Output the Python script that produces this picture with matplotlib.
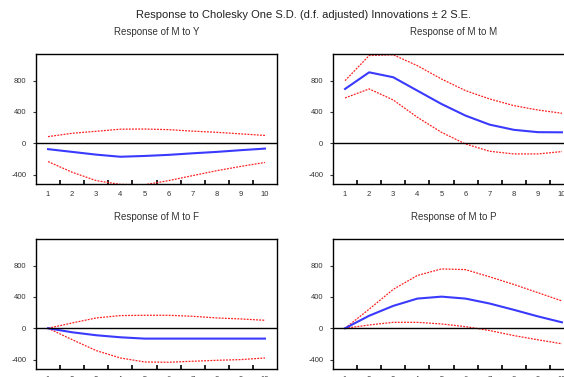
import matplotlib
matplotlib.use("Agg")
import matplotlib.pyplot as plt
from matplotlib.ticker import FixedLocator

plt.rcParams['font.family'] = ['Liberation Sans', 'DejaVu Sans']

periods = [1, 2, 3, 4, 5, 6, 7, 8, 9, 10]

titles = ["Response of M to Y", "Response of M to M",
          "Response of M to F", "Response of M to P"]

resp_Y = [-75, -110, -145, -172, -162, -148, -128, -110, -88, -68]
up_Y = [85, 128, 153, 180, 182, 174, 155, 140, 120, 100]
lo_Y = [-234, -370, -477, -525, -530, -477, -413, -350, -295, -245]

resp_M = [694, 906, 843, 672, 502, 353, 238, 172, 142, 140]
up_M = [800, 1120, 1130, 991, 821, 672, 566, 481, 425, 383]
lo_M = [579, 694, 553, 332, 140, -9, -102, -136, -136, -106]

resp_F = [0, -51, -89, -115, -132, -132, -132, -132, -132, -132]
up_F = [0, 68, 132, 162, 166, 166, 153, 132, 119, 102]
lo_F = [0, -145, -285, -379, -430, -434, -421, -409, -400, -379]

resp_P = [0, 160, 286, 379, 404, 379, 316, 236, 152, 76]
up_P = [0, 244, 497, 674, 758, 749, 657, 560, 455, 349]
lo_P = [0, 42, 76, 76, 55, 21, -29, -93, -147, -198]

series = [(resp_Y, up_Y, lo_Y), (resp_M, up_M, lo_M),
          (resp_F, up_F, lo_F), (resp_P, up_P, lo_P)]

yticks = [-400, 0, 400, 800]
ytick_labels = ["-400", "0", "400", "800"]

W, H = 564, 377
fig = plt.figure(figsize=(W / 100, H / 100), dpi=100)

# axes boxes in pixels: left, top, width, height
boxes = [(36, 54, 241, 130), (333, 54, 241, 130),
         (36, 239, 241, 130), (333, 239, 241, 130)]

for (l, t, w, h), title, (r, u, lo) in zip(boxes, titles, series):
    ax = fig.add_axes([l / W, 1 - (t + h) / H, w / W, h / H])
    ax.plot(periods, u, color="#ff2020", lw=0.9, linestyle=(0, (1.5, 1)))
    ax.plot(periods, lo, color="#ff2020", lw=0.9, linestyle=(0, (1.5, 1)))
    ax.plot(periods, r, color="#3a3aff", lw=1.5)
    ax.axhline(0, color="black", lw=1.0)
    ax.set_xlim(0.5, 10.5)
    ax.set_ylim(-520, 1140)
    ax.set_yticks(yticks)
    ax.set_yticklabels(ytick_labels)
    ax.set_xticks(periods)
    ax.set_xticklabels([str(p) for p in periods])
    ax.xaxis.set_minor_locator(FixedLocator([p + 0.5 for p in periods[:-1]]))
    ax.tick_params(axis='x', which='major', length=0, pad=5, labelsize=5.5, colors="#333333")
    ax.tick_params(axis='x', which='minor', direction='in', length=3, width=1.2, color="black")
    ax.tick_params(axis='y', which='major', direction='out', length=2, pad=5, labelsize=5.5, colors="#333333")
    for s in ax.spines.values():
        s.set_linewidth(1.0)
        s.set_color("black")
    ax.set_title(title, fontsize=7, pad=14, color="#333333")

fig.text(303 / W, 1 - 15 / H, "Response to Cholesky One S.D. (d.f. adjusted) Innovations \u00b1 2 S.E.",
         ha="center", va="center", fontsize=8, color="#222222")

fig.savefig("out.png", dpi=100)
